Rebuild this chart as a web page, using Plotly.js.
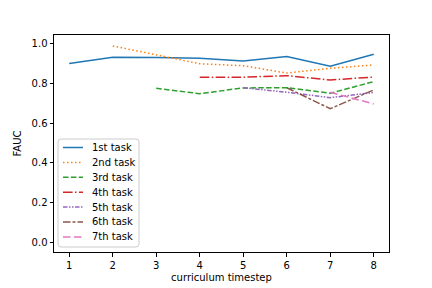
<!DOCTYPE html>
<html>
<head>
<meta charset="utf-8">
<script src="https://cdn.plot.ly/plotly-3.0.1.min.js"></script>
<style>html,body{margin:0;padding:0;background:#fff;}#chart{width:432px;height:288px;}</style>
</head>
<body>
<div id="chart"></div>
<script>
const timesteps = [1, 2, 3, 4, 5, 6, 7, 8];
const taskNames = ["1st task", "2nd task", "3rd task", "4th task", "5th task", "6th task", "7th task"];
const task1 = [0.901, 0.933, 0.931, 0.928, 0.914, 0.936, 0.887, 0.948];
const task2 = [null, 0.990, 0.944, 0.900, 0.890, 0.853, 0.877, 0.894];
const task3 = [null, null, 0.776, 0.749, 0.778, 0.779, 0.751, 0.810];
const task4 = [null, null, null, 0.832, 0.832, 0.840, 0.818, 0.833];
const task5 = [null, null, null, null, 0.779, 0.756, 0.729, 0.755];
const task6 = [null, null, null, null, null, 0.779, 0.673, 0.768];
const task7 = [null, null, null, null, null, null, 0.756, 0.697];
const yTicks = [0.0, 0.2, 0.4, 0.6, 0.8, 1.0];

const seriesValues = [task1, task2, task3, task4, task5, task6, task7];
const colors = ["#1f77b4", "#ff7f0e", "#2ca02c", "#d62728", "#9467bd", "#8c564b", "#e377c2"];
const dashes = ["solid", "1.5px,2.5px", "5.5px,2.4px", "9.6px,2.4px,1.5px,2.4px",
  "4.5px,1.5px,1.5px,1.5px,1.5px,1.5px", "7.5px,2px,3px,2px", "7.5px,3.5px"];

const traces = seriesValues.map((vals, i) => ({
  type: "scatter",
  mode: "lines",
  x: timesteps,
  y: vals,
  name: taskNames[i],
  connectgaps: false,
  line: {color: colors[i], width: 1.5, dash: dashes[i]}
}));

// plot area geometry (pixels) used for the hand-built legend box
const W = 432, H = 288, ML = 54, MR = 43, MT = 35, MB = 36;
const PW = W - ML - MR, PH = H - MT - MB;
const px = x => (x - ML) / PW;
const py = y => (H - MB - y) / PH;

const shapes = [];
const annotations = [];
// legend frame with rounded corners
{
  const x0 = px(58), x1 = px(139), y0 = py(247), y1 = py(139);
  const rx = 3 / PW, ry = 3 / PH;
  const path = `M ${x0 + rx},${y0} L ${x1 - rx},${y0} Q ${x1},${y0} ${x1},${y0 + ry} ` +
    `L ${x1},${y1 - ry} Q ${x1},${y1} ${x1 - rx},${y1} L ${x0 + rx},${y1} Q ${x0},${y1} ${x0},${y1 - ry} ` +
    `L ${x0},${y0 + ry} Q ${x0},${y0} ${x0 + rx},${y0} Z`;
  shapes.push({type: "path", xref: "paper", yref: "paper", path: path,
    fillcolor: "rgba(255,255,255,0.8)", line: {color: "#cccccc", width: 1}, layer: "above"});
}
taskNames.forEach((name, i) => {
  const yc = 147.5 + 14.9 * i;
  shapes.push({type: "line", xref: "paper", yref: "paper",
    x0: px(63), x1: px(83), y0: py(yc), y1: py(yc),
    line: {color: colors[i], width: 1.5, dash: dashes[i]}, layer: "above"});
  annotations.push({xref: "paper", yref: "paper", x: px(90), y: py(yc),
    xanchor: "left", yanchor: "middle", showarrow: false, text: name,
    font: {family: "DejaVu Sans", size: 10, color: "#000"}});
});

const axisCommon = {
  showgrid: false, zeroline: false,
  showline: true, mirror: true, linecolor: "#000", linewidth: 1,
  ticks: "outside", ticklen: 3.5, tickwidth: 1, tickcolor: "#000",
  tickfont: {family: "DejaVu Sans", size: 10, color: "#000"}
};

const layout = {
  width: W, height: H,
  margin: {l: ML, r: MR, t: MT, b: MB, pad: 0},
  paper_bgcolor: "#fff", plot_bgcolor: "#fff",
  font: {family: "DejaVu Sans", size: 10, color: "#000"},
  showlegend: false,
  shapes: shapes,
  annotations: annotations,
  xaxis: Object.assign({}, axisCommon, {
    range: [0.65, 8.35], tickmode: "array", tickvals: timesteps,
    ticktext: timesteps.map(String),
    title: {text: "curriculum timestep", font: {family: "DejaVu Sans", size: 10, color: "#000"}, standoff: 4}
  }),
  yaxis: Object.assign({}, axisCommon, {
    range: [-0.05, 1.045], tickmode: "array", tickvals: yTicks,
    ticktext: yTicks.map(v => v.toFixed(1)),
    title: {text: "FAUC", font: {family: "DejaVu Sans", size: 10, color: "#000"}, standoff: 8}
  })
};

Plotly.newPlot("chart", traces, layout, {displayModeBar: false, staticPlot: true});
</script>
</body>
</html>
